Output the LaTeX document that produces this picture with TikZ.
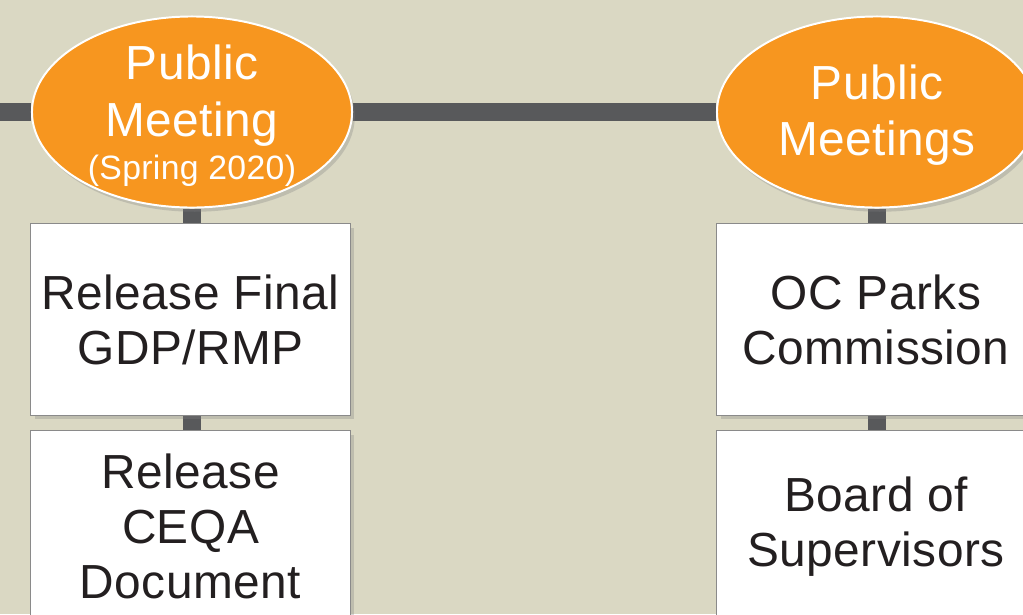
\documentclass[tikz,border=0pt]{standalone}
\usepackage{fontspec}
\setmainfont{Liberation Sans}[LetterSpace=1]
\usetikzlibrary{shapes.geometric,shadows,backgrounds}
\definecolor{beige}{HTML}{DAD8C3}
\definecolor{meetorange}{HTML}{F7961F}
\definecolor{bargray}{HTML}{58595B}
\definecolor{inkdark}{HTML}{231F20}
\definecolor{boxline}{HTML}{8A8A8A}

\begin{document}
\begin{tikzpicture}[x=0.025cm,y=-0.025cm,
  meeting/.style={ellipse,draw=white,line width=1.4pt,fill=meetorange,
    minimum width=8cm,minimum height=4.775cm,inner sep=0pt,
    drop shadow={shadow xshift=2pt,shadow yshift=-3pt,opacity=0.3}},
  meettext/.style={align=center,text=white,font=\fontsize{34}{40}\selectfont},
  stepbox/.style={draw=boxline,line width=0.7pt,fill=white,
    minimum width=7.975cm,minimum height=4.775cm,inner sep=0pt,
    align=center,text=inkdark,font=\fontsize{34}{39}\selectfont,
    drop shadow={shadow xshift=3pt,shadow yshift=-3pt,opacity=0.3}},
  link/.style={draw=bargray,line width=0.45cm}]
\useasboundingbox (0,0) rectangle (1023,614);

% Meetings
\node[meeting] (pm1) at (192,112) {};
\node[meeting] (pm2) at (877,112) {};
\node[meettext] (pm1t) at (192,116) {Public\\Meeting\\[-9pt]{\fontsize{24}{28}\selectfont (Spring 2020)}};
\node[meettext] (pm2t) at (877,115) {Public\\Meetings};

% Steps
\node[stepbox] (rel1) at (190.5,319.5) {Release Final\\GDP/RMP};
\node[stepbox] (rel2) at (190.5,526.5) {Release\\CEQA\\Document};
\node[stepbox] (ocp) at (876,319.5) {OC Parks\\Commission};
\node[stepbox] (bos) at (876,526.5) {Board of\\Supervisors};

% Bars
\coordinate (barstart) at (0,112);
\begin{scope}[on background layer]
\fill[beige] (0,0) rectangle (1023,614);
\draw[link] (barstart) -- (pm1.west);
\draw[link] (pm1.east) -- (pm2.west);
\draw[link] (pm1.south) -- (pm1.south |- rel1.north);
\draw[link] (rel1.south -| pm1) -- (rel2.north -| pm1);
\draw[link] (pm2.south) -- (pm2.south |- ocp.north);
\draw[link] (ocp.south -| pm2) -- (bos.north -| pm2);
\end{scope}
\end{tikzpicture}
\end{document}
